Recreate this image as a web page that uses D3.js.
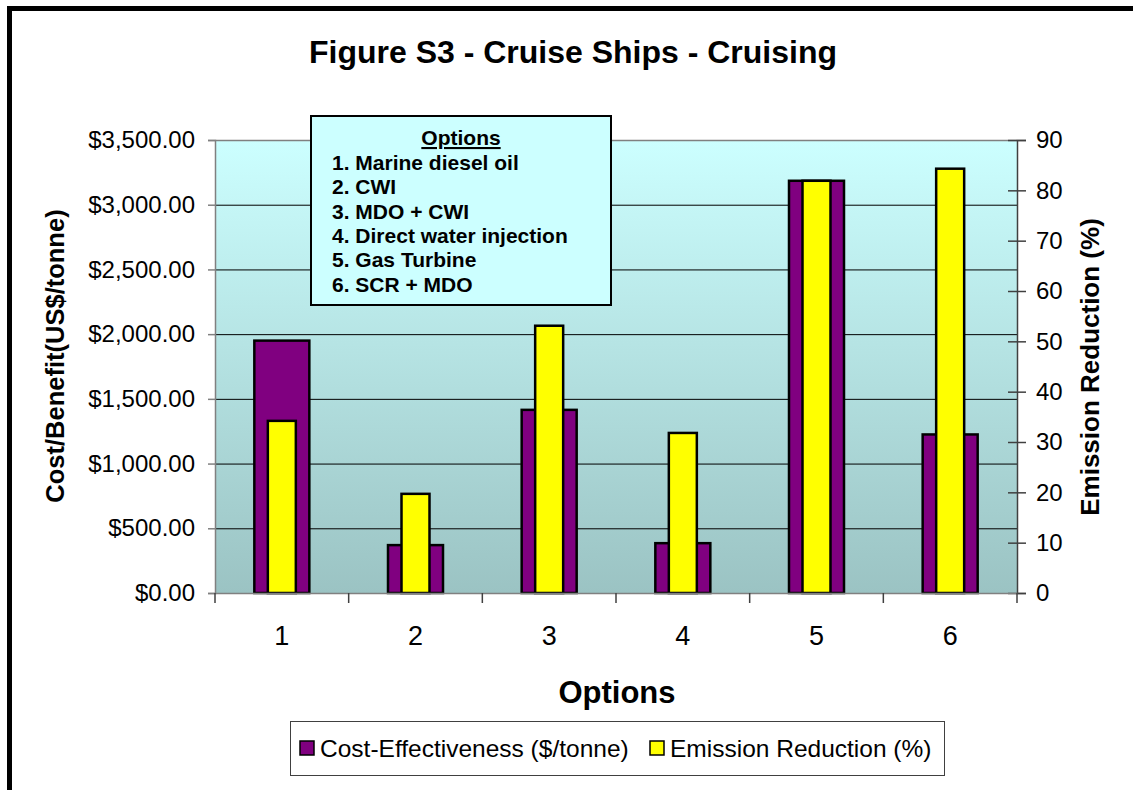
<!DOCTYPE html>
<html>
<head>
<meta charset="utf-8">
<script src="https://cdn.jsdelivr.net/npm/d3@7"></script>
<style>
  body { margin: 0; background: #fff; }
  svg { display: block; font-family: "Liberation Sans", Arial, sans-serif; }
</style>
</head>
<body>
<svg id="chart" width="1133" height="790"></svg>
<script>
// chart data
const categories = ["1", "2", "3", "4", "5", "6"];
const costValues = [1950, 370, 1415, 385, 3185, 1225];
const emissionValues = [34.2, 19.7, 53.1, 31.8, 81.9, 84.3];
const costTicks = [0, 500, 1000, 1500, 2000, 2500, 3000, 3500];
const emissionTicks = [0, 10, 20, 30, 40, 50, 60, 70, 80, 90];
const optionLines = [
  "1. Marine diesel oil",
  "2. CWI",
  "3. MDO + CWI",
  "4. Direct water injection",
  "5. Gas Turbine",
  "6. SCR + MDO"
];
const legendItems = ["Cost-Effectiveness ($/tonne)", "Emission Reduction (%)"];

const svg = d3.select("#chart");

// plot area
const plotLeft = 215, plotRight = 1017, plotTop = 140, plotBottom = 593;

const x = d3.scaleBand().domain(categories).range([plotLeft, plotRight]).paddingInner(0).paddingOuter(0);
const yCost = d3.scaleLinear().domain([0, 3500]).range([plotBottom, plotTop]);
const yEm = d3.scaleLinear().domain([0, 90]).range([plotBottom, plotTop]);

// outer frame (right and bottom edges fall outside the picture)
svg.append("rect")
  .attr("x", 9.5).attr("y", 8.5)
  .attr("width", 1160).attr("height", 820)
  .attr("fill", "#fff")
  .attr("stroke", "#000")
  .attr("stroke-width", 5);

// background gradient
const defs = svg.append("defs");
const grad = defs.append("linearGradient")
  .attr("id", "bg").attr("x1", 0).attr("y1", 0).attr("x2", 0).attr("y2", 1);
grad.append("stop").attr("offset", "0%").attr("stop-color", "#ccffff");
grad.append("stop").attr("offset", "100%").attr("stop-color", "#9bc3c3");

svg.append("rect")
  .attr("x", plotLeft).attr("y", plotTop)
  .attr("width", plotRight - plotLeft).attr("height", plotBottom - plotTop)
  .attr("fill", "url(#bg)");

// gridlines
svg.append("g")
  .selectAll("line")
  .data(costTicks.filter(t => t > 0 && t < 3500))
  .join("line")
  .attr("x1", plotLeft).attr("x2", plotRight)
  .attr("y1", d => yCost(d) + 0.5).attr("y2", d => yCost(d) + 0.5)
  .attr("stroke", "#000").attr("stroke-width", 1);

// top border of plot
svg.append("line")
  .attr("x1", plotLeft).attr("x2", plotRight)
  .attr("y1", plotTop + 0.5).attr("y2", plotTop + 0.5)
  .attr("stroke", "#808080").attr("stroke-width", 1.5);

// bars
const purpleW = 55, yellowW = 28;
svg.append("g")
  .selectAll("rect")
  .data(costValues)
  .join("rect")
  .attr("x", (d, i) => x(categories[i]) + x.bandwidth() / 2 - purpleW / 2)
  .attr("y", d => yCost(d))
  .attr("width", purpleW)
  .attr("height", d => plotBottom - yCost(d))
  .attr("fill", "#800080")
  .attr("stroke", "#000")
  .attr("stroke-width", 2.5);

svg.append("g")
  .selectAll("rect")
  .data(emissionValues)
  .join("rect")
  .attr("x", (d, i) => x(categories[i]) + x.bandwidth() / 2 - yellowW / 2)
  .attr("y", d => yEm(d))
  .attr("width", yellowW)
  .attr("height", d => plotBottom - yEm(d))
  .attr("fill", "#ffff00")
  .attr("stroke", "#000")
  .attr("stroke-width", 2.5);

// left axis
const leftAxis = svg.append("g")
  .attr("transform", `translate(${plotLeft},0)`)
  .call(d3.axisLeft(yCost).tickValues(costTicks).tickSize(7).tickPadding(13)
    .tickFormat(d => "$" + d3.format(",.2f")(d)));
leftAxis.select(".domain").attr("stroke", "#808080").attr("stroke-width", 1.5);
leftAxis.selectAll(".tick line").attr("stroke", "#808080").attr("stroke-width", 1.5);
leftAxis.selectAll("text").attr("font-size", 24).attr("fill", "#000")
  .attr("font-family", "'Liberation Sans', Arial, sans-serif");

// right axis
const rightAxis = svg.append("g")
  .attr("transform", `translate(${plotRight},0)`)
  .call(d3.axisRight(yEm).tickValues(emissionTicks).tickSize(9).tickPadding(10));
rightAxis.select(".domain").attr("stroke", "#404040").attr("stroke-width", 1.5);
rightAxis.selectAll(".tick line").attr("x1", -9).attr("stroke", "#404040").attr("stroke-width", 1.5);
rightAxis.selectAll("text").attr("font-size", 24).attr("fill", "#000")
  .attr("font-family", "'Liberation Sans', Arial, sans-serif");

// bottom axis
const bottomAxis = svg.append("g")
  .attr("transform", `translate(0,${plotBottom})`)
  .call(d3.axisBottom(x).tickSize(0).tickPadding(33));
bottomAxis.select(".domain").attr("stroke", "#808080").attr("stroke-width", 1.5);
bottomAxis.selectAll("text").attr("font-size", 27).attr("fill", "#000")
  .attr("font-family", "'Liberation Sans', Arial, sans-serif");

// category boundary ticks
const bounds = categories.map(c => x(c)).concat([plotRight]);
svg.append("g")
  .selectAll("line")
  .data(bounds)
  .join("line")
  .attr("x1", d => d).attr("x2", d => d)
  .attr("y1", plotBottom).attr("y2", plotBottom + 10)
  .attr("stroke", "#404040").attr("stroke-width", 1.5);

// title
svg.append("text")
  .attr("x", 573).attr("y", 63)
  .attr("text-anchor", "middle")
  .attr("font-size", 32).attr("font-weight", "bold")
  .text("Figure S3 - Cruise Ships - Cruising");

// axis titles
svg.append("text")
  .attr("x", 617).attr("y", 703)
  .attr("text-anchor", "middle")
  .attr("font-size", 31).attr("font-weight", "bold")
  .text("Options");

svg.append("text")
  .attr("transform", "translate(64,356) rotate(-90)")
  .attr("text-anchor", "middle")
  .attr("font-size", 25.5).attr("font-weight", "bold")
  .text("Cost/Benefit(US$/tonne)");

svg.append("text")
  .attr("transform", "translate(1099,367) rotate(-90)")
  .attr("text-anchor", "middle")
  .attr("font-size", 26).attr("font-weight", "bold")
  .text("Emission Reduction (%)");

// options text box
const box = svg.append("g");
box.append("rect")
  .attr("x", 311).attr("y", 116)
  .attr("width", 300).attr("height", 189)
  .attr("fill", "#ccffff")
  .attr("stroke", "#000").attr("stroke-width", 2);
box.append("text")
  .attr("x", 461).attr("y", 145)
  .attr("text-anchor", "middle")
  .attr("font-size", 21).attr("font-weight", "bold")
  .attr("text-decoration", "underline")
  .text("Options");
box.selectAll("text.opt")
  .data(optionLines)
  .join("text")
  .attr("class", "opt")
  .attr("x", 332)
  .attr("y", (d, i) => 170 + i * 24.3)
  .attr("font-size", 21).attr("font-weight", "bold")
  .text(d => d);

// legend
const legend = svg.append("g");
legend.append("rect")
  .attr("x", 290.5).attr("y", 721.5)
  .attr("width", 654).attr("height", 54)
  .attr("fill", "#fff")
  .attr("stroke", "#404040").attr("stroke-width", 1);
const swatchColors = ["#800080", "#ffff00"];
const legendX = [300, 650];
legendItems.forEach((label, i) => {
  legend.append("rect")
    .attr("x", legendX[i]).attr("y", 741)
    .attr("width", 14).attr("height", 14)
    .attr("fill", swatchColors[i])
    .attr("stroke", "#000").attr("stroke-width", 1.5);
  legend.append("text")
    .attr("x", legendX[i] + 20).attr("y", 757)
    .attr("font-size", 24.5)
    .text(label);
});
</script>
</body>
</html>
